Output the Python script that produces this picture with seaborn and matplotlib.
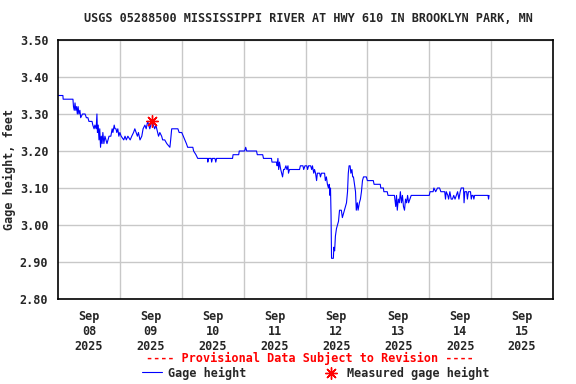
import pandas as pd
import matplotlib
matplotlib.use("Agg")
import matplotlib.pyplot as plt
import seaborn as sns

title = "USGS 05288500 MISSISSIPPI RIVER AT HWY 610 IN BROOKLYN PARK, MN"
start = pd.Timestamp("2025-09-08 00:00")

# hours after Sep 08 00:00 and gage height (ft)
hours = [0, 1.9, 2.0, 5.8, 6.0, 6.3, 6.6, 6.9, 7.2, 7.5, 7.8, 8.1, 8.5, 8.8, 9.5, 10.5,
         11.0, 11.6, 12.0, 13.2, 13.5, 14.0, 14.3, 14.8, 15.1, 15.3, 15.6, 15.9, 16.2,
         16.5, 16.8, 17.1, 17.4, 17.8, 18.2, 18.6, 19.0, 19.4, 19.8, 20.5, 21.0, 21.3,
         21.8, 22.1, 22.5, 22.8, 23.2, 23.6, 24.0,
         24.5, 25.5, 26.0, 26.5, 27.1, 28.0, 28.6, 29.3, 29.8, 30.3, 30.8, 31.2, 31.8,
         32.5, 33.0, 33.7, 34.2, 34.8, 35.2, 35.6, 36.0, 36.4, 37.0, 37.5, 38.0, 38.3,
         39.0, 39.5, 40.2, 40.6, 41.4, 42.2, 43.4, 43.7, 44.1, 46.5, 47.0, 48.0, 48.6,
         49.2, 49.8, 50.3, 52.3, 52.6, 53.5, 54.2,
         58.0, 58.1, 58.4, 59.4, 59.6, 59.9, 60.9, 61.2, 61.5, 67.7, 67.9, 70.1, 70.3,
         72.4, 72.8, 73.2, 77.0, 77.3, 79.4, 79.7, 82.8, 83.0, 84.8, 85.0, 85.3, 85.6,
         85.9, 86.4, 87.1, 87.5, 87.9, 88.4, 88.8, 89.2, 89.4, 89.8, 90.6, 93.7, 94.0,
         95.0, 95.3, 95.8, 96.5, 96.8, 97.2, 98.0, 98.4, 98.7, 99.2, 99.5, 99.9, 100.3,
         100.6, 101.5, 101.8, 102.2, 103.4, 103.7, 104.1, 104.5, 104.9, 105.2, 105.5,
         105.7, 105.9, 106.1, 106.8, 107.0, 107.3, 107.6, 108.0, 108.4, 108.8, 109.2,
         109.9, 110.3, 110.7, 111.1, 111.5, 111.9, 112.3, 112.6, 112.9, 113.3, 113.6,
         114.0, 114.3, 114.6, 115.0, 115.4, 115.7, 116.1, 116.4, 116.9, 117.3, 117.7,
         118.1, 118.5, 119.6, 120.0, 122.3, 122.6, 125.0, 125.2, 126.2, 126.4, 127.7,
         128.0, 130.5,
         131.0, 131.3, 131.6, 132.0, 132.4, 132.8, 133.2, 133.6, 134.0, 134.4, 134.8,
         135.2, 135.6, 136.0, 136.5, 137.0, 144.0, 144.3, 145.5, 145.8, 146.5, 147.2,
         148.0, 148.5, 150.0, 150.3, 150.6, 151.2, 151.5, 152.0, 152.5, 153.0, 153.5,
         154.0, 154.5, 155.0, 155.5, 156.0, 156.4, 157.3, 157.5, 157.8, 158.5, 158.8,
         159.2, 160.0, 160.3, 160.6, 161.0, 161.3, 161.6, 166.8, 167.0, 167.2]
gage = [3.35, 3.35, 3.34, 3.34, 3.32, 3.31, 3.33, 3.31, 3.32, 3.30, 3.32, 3.30, 3.31, 3.29, 3.30, 3.30,
        3.29, 3.29, 3.28, 3.28, 3.27, 3.26, 3.27, 3.26, 3.30, 3.25, 3.27, 3.23, 3.26,
        3.21, 3.24, 3.22, 3.25, 3.22, 3.24, 3.23, 3.22, 3.23, 3.24, 3.24, 3.26, 3.25,
        3.27, 3.26, 3.26, 3.25, 3.26, 3.24, 3.25,
        3.24, 3.23, 3.24, 3.23, 3.24, 3.23, 3.24, 3.25, 3.26, 3.25, 3.24, 3.25, 3.23,
        3.24, 3.26, 3.27, 3.26, 3.28, 3.27, 3.26, 3.27, 3.28, 3.27, 3.26, 3.27, 3.26,
        3.24, 3.25, 3.24, 3.23, 3.23, 3.22, 3.21, 3.23, 3.26, 3.26, 3.25, 3.25, 3.24,
        3.23, 3.22, 3.21, 3.21, 3.20, 3.19, 3.18,
        3.18, 3.17, 3.18, 3.18, 3.17, 3.18, 3.18, 3.17, 3.18, 3.18, 3.19, 3.19, 3.20,
        3.20, 3.21, 3.20, 3.20, 3.19, 3.19, 3.18, 3.18, 3.17, 3.17, 3.16, 3.18, 3.15,
        3.17, 3.15, 3.13, 3.15, 3.15, 3.16, 3.15, 3.16, 3.14, 3.15, 3.15, 3.15, 3.16,
        3.16, 3.15, 3.16, 3.16, 3.15, 3.16, 3.16, 3.15, 3.16, 3.14, 3.15, 3.14, 3.12,
        3.14, 3.14, 3.13, 3.14, 3.14, 3.12, 3.13, 3.11, 3.10, 3.11, 3.08,
        3.10, 3.03, 2.91, 2.91, 2.94, 2.93, 2.97, 2.99, 3.00, 3.01, 3.04,
        3.04, 3.02, 3.03, 3.04, 3.05, 3.06, 3.09, 3.14, 3.16, 3.16, 3.14,
        3.15, 3.13, 3.13, 3.11, 3.09, 3.04, 3.06, 3.04, 3.06, 3.07, 3.09,
        3.12, 3.13, 3.13, 3.12, 3.12, 3.11, 3.11, 3.10, 3.10, 3.09, 3.09,
        3.08, 3.08,
        3.05, 3.08, 3.04, 3.07, 3.06, 3.09, 3.06, 3.08, 3.05, 3.04, 3.07,
        3.06, 3.08, 3.06, 3.07, 3.08, 3.08, 3.09, 3.09, 3.10, 3.09, 3.10,
        3.10, 3.09, 3.09, 3.07, 3.09, 3.08, 3.07, 3.09, 3.07, 3.07, 3.08,
        3.07, 3.08, 3.09, 3.07, 3.09, 3.10, 3.10, 3.06, 3.09, 3.09, 3.07,
        3.09, 3.09, 3.07, 3.08, 3.08, 3.07, 3.08, 3.08, 3.07, 3.08]

meas_hours = [36.4]
meas_gage = [3.28]

day_labels = ["Sep\n08\n2025", "Sep\n09\n2025", "Sep\n10\n2025", "Sep\n11\n2025",
              "Sep\n12\n2025", "Sep\n13\n2025", "Sep\n14\n2025", "Sep\n15\n2025"]
y_ticks = [2.8, 2.9, 3.0, 3.1, 3.2, 3.3, 3.4, 3.5]

df = pd.DataFrame({"time": start + pd.to_timedelta(hours, unit="h"), "gage": gage})
meas = pd.DataFrame({"time": start + pd.to_timedelta(meas_hours, unit="h"), "gage": meas_gage})

sns.set_style("white")
plt.rcParams["font.family"] = ["DejaVu Sans Mono"]
plt.rcParams["font.weight"] = "bold"
plt.rcParams["axes.labelweight"] = "bold"
plt.rcParams["font.size"] = 8.5

fig = plt.figure(figsize=(5.76, 3.84), dpi=100)
ax = fig.add_axes([58 / 576, 1 - 299 / 384, 495 / 576, 259 / 384])

sns.lineplot(data=df, x="time", y="gage", color="#0000ff", lw=0.8, ax=ax,
             label="Gage height")
sns.scatterplot(data=meas, x="time", y="gage", marker=(8, 2, 0), s=70, color="red",
                edgecolor="red", linewidth=1.0, ax=ax, label="Measured gage height",
                zorder=5)

days = [start + pd.Timedelta(days=i) for i in range(9)]
noons = [d + pd.Timedelta(hours=12) for d in days[:8]]
ax.set_xlim(days[0], days[-1])
ax.set_ylim(2.8, 3.5)
ax.set_xticks(days[1:-1])
ax.set_xticklabels([])
ax.set_xticks(noons, minor=True)
ax.set_xticklabels(day_labels, minor=True, linespacing=1.2)
ax.set_yticks(y_ticks)
ax.set_yticklabels([f"{v:.2f}" for v in y_ticks])
ax.tick_params(which="both", length=0)
ax.tick_params(axis="x", which="minor", pad=8)
ax.tick_params(axis="y", pad=7)
ax.grid(True, which="major", color="#c8c8c8", lw=1)
ax.set_axisbelow(True)
for s in ax.spines.values():
    s.set_color("black")
    s.set_linewidth(1.2)

ax.set_xlabel("")
ax.set_ylabel("Gage height, feet", fontweight="bold")
ax.yaxis.set_label_coords(-0.085, 0.5)

handles, labels = ax.get_legend_handles_labels()
ax.get_legend().remove()
fig.legend(handles, labels, ncol=2, loc="center", bbox_to_anchor=(316 / 576, 1 - 373 / 384),
           frameon=False, handlelength=1.7, handletextpad=0.5, columnspacing=6.3,
           borderpad=0, borderaxespad=0)

fig.text(308 / 576, 1 - 19 / 384, title, ha="center", va="center")
fig.text(310 / 576, 1 - 358 / 384, "---- Provisional Data Subject to Revision ----",
         ha="center", va="center", color="red")

fig.savefig("out.png", dpi=100)
